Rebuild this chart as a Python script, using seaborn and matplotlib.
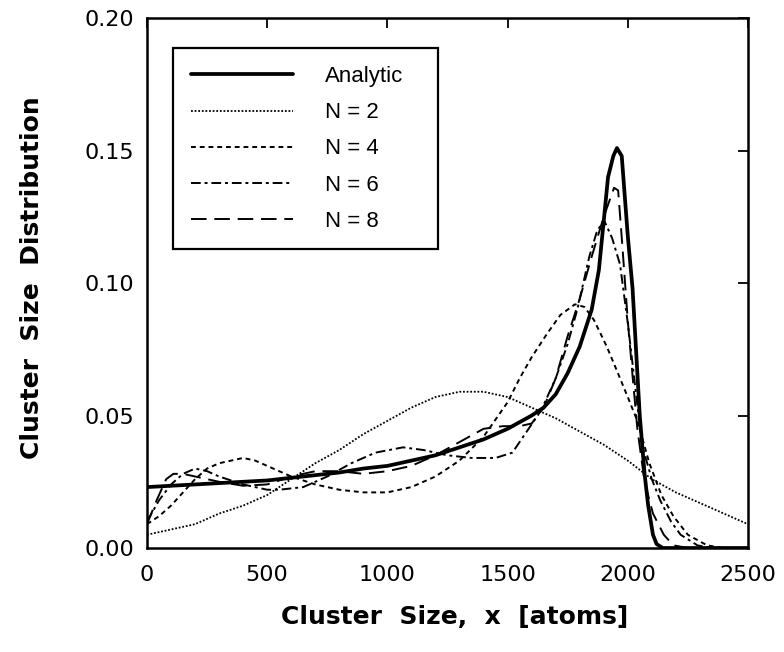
import matplotlib
matplotlib.use("Agg")
import matplotlib.pyplot as plt
import seaborn as sns

# ---- data ----
analytic_x = [0, 100, 200, 300, 400, 500, 600, 700, 800, 900, 1000, 1100, 1200, 1300,
              1400, 1500, 1600, 1650, 1700, 1750, 1800, 1850, 1880, 1918, 1940, 1955,
              1975, 2000, 2020, 2050, 2070, 2085, 2105, 2120, 2145, 2500]
analytic_y = [0.023, 0.0235, 0.024, 0.0245, 0.025, 0.0255, 0.0265, 0.0275, 0.0285, 0.030,
              0.031, 0.033, 0.035, 0.038, 0.041, 0.045, 0.050, 0.053, 0.058, 0.066, 0.076,
              0.090, 0.105, 0.140, 0.148, 0.151, 0.148, 0.118, 0.098, 0.050, 0.028, 0.016,
              0.005, 0.0015, 0.0, 0.0]

n2_x = [0, 100, 200, 300, 400, 500, 600, 700, 800, 900, 1000, 1100, 1200, 1300, 1400,
        1500, 1600, 1700, 1800, 1900, 2000, 2100, 2200, 2300, 2400, 2500]
n2_y = [0.005, 0.007, 0.009, 0.013, 0.016, 0.020, 0.026, 0.032, 0.037, 0.043, 0.048,
        0.053, 0.057, 0.059, 0.059, 0.057, 0.053, 0.049, 0.044, 0.039, 0.033, 0.026,
        0.021, 0.017, 0.013, 0.009]

n4_x = [0, 50, 100, 150, 200, 250, 300, 400, 450, 500, 600, 700, 800, 900, 1000, 1100,
        1200, 1300, 1400, 1500, 1550, 1600, 1665, 1720, 1780, 1820, 1860, 1913, 1950,
        2000, 2040, 2090, 2140, 2190, 2250, 2330, 2400, 2500]
n4_y = [0.009, 0.012, 0.016, 0.021, 0.026, 0.030, 0.032, 0.034, 0.033, 0.031, 0.027,
        0.024, 0.022, 0.021, 0.021, 0.023, 0.027, 0.033, 0.042, 0.055, 0.064, 0.072,
        0.081, 0.088, 0.092, 0.091, 0.086, 0.076, 0.068, 0.057, 0.048, 0.032, 0.020,
        0.012, 0.005, 0.001, 0.0, 0.0]

n6_x = [0, 50, 100, 150, 200, 250, 300, 400, 500, 550, 650, 750, 850, 950, 1065, 1150,
        1250, 1350, 1450, 1520, 1580, 1640, 1700, 1750, 1790, 1840, 1870, 1900, 1935,
        1968, 2000, 2022, 2045, 2065, 2100, 2135, 2180, 2220, 2290, 2350, 2500]
n6_y = [0.010, 0.018, 0.024, 0.028, 0.030, 0.029, 0.027, 0.024, 0.022, 0.022, 0.023,
        0.027, 0.032, 0.036, 0.038, 0.037, 0.035, 0.034, 0.034, 0.036, 0.044, 0.052,
        0.064, 0.077, 0.090, 0.110, 0.119, 0.124, 0.117, 0.107, 0.085, 0.068, 0.050,
        0.037, 0.026, 0.018, 0.010, 0.005, 0.001, 0.0, 0.0]

n8_x = [0, 40, 80, 110, 150, 200, 300, 400, 500, 600, 700, 800, 900, 1000, 1100, 1200,
        1300, 1400, 1480, 1550, 1600, 1650, 1700, 1750, 1800, 1850, 1900, 1943, 1960,
        1976, 2000, 2020, 2040, 2070, 2105, 2150, 2190, 2250, 2500]
n8_y = [0.009, 0.018, 0.026, 0.028, 0.028, 0.027, 0.025, 0.0235, 0.024, 0.027, 0.029,
        0.029, 0.028, 0.029, 0.031, 0.035, 0.040, 0.045, 0.046, 0.046, 0.047, 0.053,
        0.064, 0.080, 0.094, 0.110, 0.125, 0.136, 0.135, 0.116, 0.086, 0.065, 0.045,
        0.025, 0.013, 0.005, 0.001, 0.0, 0.0]

labels = ["Analytic", "N = 2", "N = 4", "N = 6", "N = 8"]
x_ticks = [0, 500, 1000, 1500, 2000, 2500]
y_ticks = [0.00, 0.05, 0.10, 0.15, 0.20]

# ---- styling ----
sns.set_theme(style="white")
plt.rcParams["font.family"] = ["DejaVu Sans"]
plt.rcParams["text.color"] = "black"
plt.rcParams["axes.labelcolor"] = "black"

fig, ax = plt.subplots(figsize=(7.84, 6.52), dpi=100)
fig.subplots_adjust(left=0.1875, right=0.954, top=0.972, bottom=0.1595)

series = [
    (analytic_x, analytic_y, "-", 2.7),
    (n2_x, n2_y, (0, (1.0, 1.0)), 1.3),
    (n4_x, n4_y, (0, (2.5, 2.0)), 1.4),
    (n6_x, n6_y, (0, (5.0, 2.0, 1.5, 2.0)), 1.4),
    (n8_x, n8_y, (0, (8.0, 4.0)), 1.4),
]
for (xs, ys, ls, lw), lab in zip(series, labels):
    sns.lineplot(x=xs, y=ys, ax=ax, color="black", linestyle=ls, linewidth=lw,
                 label=lab, errorbar=None, sort=False)

ax.set_xlim(0, 2500)
ax.set_ylim(0, 0.20)
ax.set_xticks(x_ticks)
ax.set_yticks(y_ticks)
ax.set_xticklabels([str(t) for t in x_ticks])
ax.set_yticklabels([f"{t:.2f}" for t in y_ticks])
ax.tick_params(axis="both", direction="in", length=7, width=1.3, top=True, right=True,
               labelsize=16, colors="black", labelcolor="black")
ax.tick_params(axis="x", pad=12)
ax.tick_params(axis="y", pad=9)
for s in ax.spines.values():
    s.set_color("black")
    s.set_linewidth(1.8)

ax.set_xlabel("Cluster  Size,  x  [atoms]", fontsize=18, fontweight="bold", color="black")
ax.set_ylabel("Cluster  Size  Distribution", fontsize=18, fontweight="bold", color="black")
ax.xaxis.set_label_coords(0.512, -0.108)
ax.yaxis.set_label_coords(-0.172, 0.51)

leg = ax.legend(loc="upper left", bbox_to_anchor=(0.0433, 0.50, 0.441, 0.443),
                mode="expand", prop={"family": "Liberation Sans", "size": 16},
                frameon=True, fancybox=False, edgecolor="black", framealpha=1,
                handlelength=4.6, handletextpad=1.45, labelspacing=0.68,
                borderpad=0.8, borderaxespad=0)
leg.get_frame().set_linewidth(1.6)
for t in leg.get_texts():
    t.set_color("black")

fig.savefig("out.png", dpi=100)
